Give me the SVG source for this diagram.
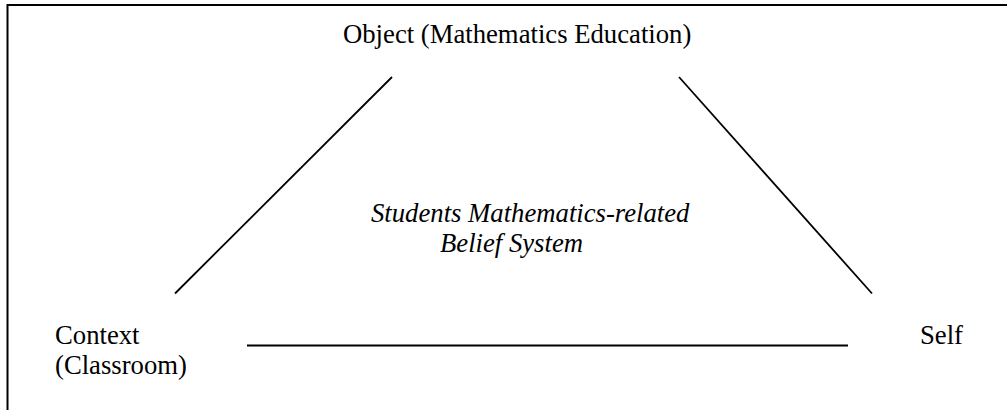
<svg xmlns="http://www.w3.org/2000/svg" width="1007" height="410" viewBox="0 0 1007 410">
<style>
.lbl{font-size:26.7px;fill:#000}
.it{font-style:italic}
.edge{stroke:#000;stroke-width:1.8;fill:none}
.frame{stroke:#000;stroke-width:2;fill:none}
</style>
<rect width="1007" height="410" fill="#fff"/>
<path class="frame" d="M7.5,412 V5 H1010"/>
<g id="connectors">
<line class="edge" x1="392" y1="77" x2="175" y2="293.5"/>
<line class="edge" x1="679" y1="77" x2="872" y2="293.5"/>
<line class="edge" x1="247" y1="345.5" x2="848" y2="345.5"/>
</g>
<g font-family="Liberation Serif, DejaVu Serif, serif">
<g id="object"><text class="lbl" x="343" y="43">Object (Mathematics Education)</text></g>
<g id="context"><text class="lbl" x="55" y="344">Context</text><text class="lbl" x="55" y="374">(Classroom)</text></g>
<g id="self"><text class="lbl" x="920" y="344">Self</text></g>
<g id="belief"><text class="lbl it" x="371" y="222">Students Mathematics-related</text><text class="lbl it" x="440" y="252">Belief System</text></g>
</g>
</svg>
